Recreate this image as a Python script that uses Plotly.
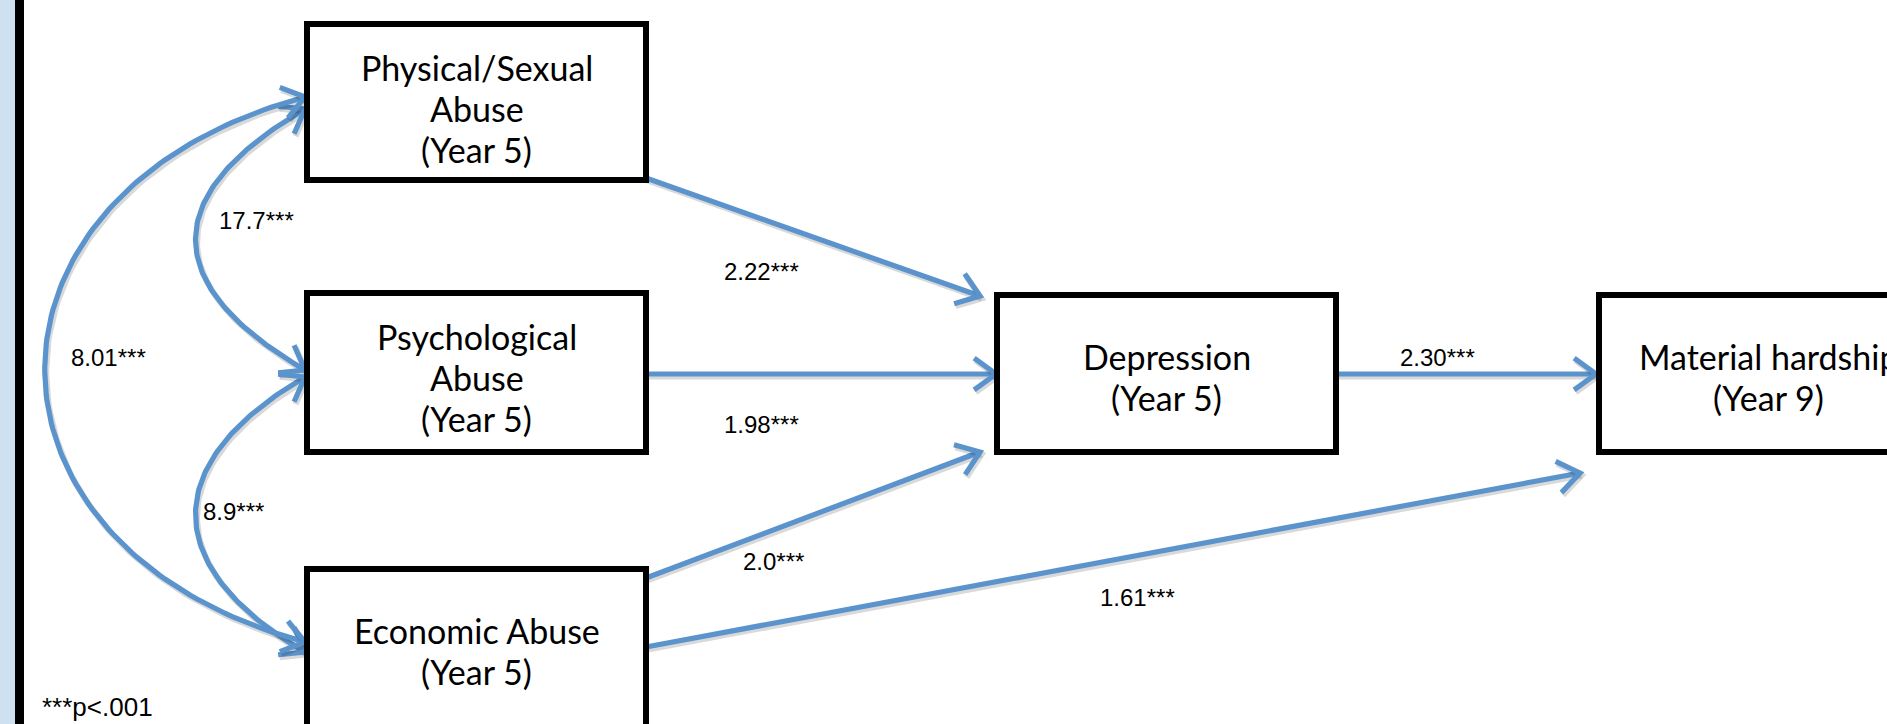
import numpy as np
import plotly.graph_objects as go

# ---------------- data ----------------
node_names = [
    "Physical/Sexual<br>Abuse<br>(Year 5)",
    "Psychological<br>Abuse<br>(Year 5)",
    "Economic Abuse<br>(Year 5)",
    "Depression<br>(Year 5)",
    "Material hardship<br>(Year 9)",
]
path_from = [0, 1, 2, 2, 3]
path_to = [3, 3, 3, 4, 4]
path_coef = ["2.22***", "1.98***", "2.0***", "1.61***", "2.30***"]
cov_from = [0, 1, 0]
cov_to = [1, 2, 2]
cov_coef = ["17.7***", "8.9***", "8.01***"]
footnote = "***p<.001"

# ---------------- layout (positions / styles) ----------------
W, H = 1887, 724
BLUE = "#5B94CD"
SHADOW = "rgba(0,0,0,0.15)"
box_rects = [(307, 24, 646, 180), (307, 293, 646, 452), (307, 569, 646, 730),
             (997, 295, 1336, 452), (1599, 295, 1938, 452)]
text_centers = [108, 377, 651, 377, 377]
LINE_GAP = 41
path_pts = [((646, 178), (980, 296)), ((646, 374), (996, 374)), ((646, 578), (980, 452)),
            ((646, 647), (1580, 473)), ((1336, 374), (1596, 374))]
path_lab_pos = [(761, 271), (761, 424), (773, 561), (1137, 597), (1437, 357)]
cov_geom = [((305, 109), (305, 370), 159, 85), ((305, 377), (305, 652), 159, 85),
            ((305, 97), (305, 642), -42, 93)]
cov_lab_pos = [(256, 220), (233, 511), (108, 357)]

fig = go.Figure()


def add_line(xs, ys):
    xs = np.asarray(xs, float)
    ys = np.asarray(ys, float)
    fig.add_trace(go.Scatter(x=xs + 1.5, y=ys + 2.5, mode="lines",
                             line=dict(color=SHADOW, width=6), hoverinfo="skip", showlegend=False))
    fig.add_trace(go.Scatter(x=xs, y=ys, mode="lines",
                             line=dict(color=BLUE, width=5.2), hoverinfo="skip", showlegend=False))


def chevron(tip, direction, L=27, ang=36):
    d = np.asarray(direction, float)
    d = d / np.linalg.norm(d)
    a = np.radians(ang)
    back = -d
    r1 = np.array([back[0] * np.cos(a) - back[1] * np.sin(a), back[0] * np.sin(a) + back[1] * np.cos(a)])
    r2 = np.array([back[0] * np.cos(-a) - back[1] * np.sin(-a), back[0] * np.sin(-a) + back[1] * np.cos(-a)])
    p1 = np.asarray(tip) + L * r1
    p2 = np.asarray(tip) + L * r2
    add_line([p1[0], tip[0], p2[0]], [p1[1], tip[1], p2[1]])


# straight paths
for i in range(len(path_from)):
    (x0, y0), (x1, y1) = path_pts[i]
    add_line([x0, x1], [y0, y1])
    chevron((x1, y1), (x1 - x0, y1 - y0))

# curved covariances (double-headed)
t = np.linspace(0, 1, 120)
for i in range(len(cov_from)):
    (x0, y0), (x3, y3), xc, d = cov_geom[i]
    P0 = np.array([x0, y0]); P1 = np.array([xc, y0 + d])
    P2 = np.array([xc, y3 - d]); P3 = np.array([x3, y3])
    pts = (((1 - t) ** 3)[:, None] * P0 + (3 * (1 - t) ** 2 * t)[:, None] * P1
           + (3 * (1 - t) * t ** 2)[:, None] * P2 + (t ** 3)[:, None] * P3)
    add_line(pts[:, 0], pts[:, 1])
    chevron(P0, P0 - P1)
    chevron(P3, P3 - P2)

shapes = [
    dict(type="rect", x0=-5, x1=15, y0=-5, y1=H + 5, fillcolor="#CFE0F1", line=dict(width=0), layer="below"),
    dict(type="rect", x0=15, x1=24, y0=-5, y1=H + 5, fillcolor="#000000", line=dict(width=0), layer="below"),
]
for (x0, y0, x1, y1) in box_rects:
    shapes.append(dict(type="rect", x0=x0, x1=x1, y0=y0, y1=y1, fillcolor="white",
                       line=dict(color="black", width=6), layer="above"))

annotations = []
for i, name in enumerate(node_names):
    x0, y0, x1, y1 = box_rects[i]
    lines = name.split("<br>")
    n = len(lines)
    for k, ln in enumerate(lines):
        yk = text_centers[i] + (k - (n - 1) / 2) * LINE_GAP
        annotations.append(dict(x=(x0 + x1) / 2, y=yk, text=ln, showarrow=False, xref="x", yref="y",
                                font=dict(family="Lato, Open Sans, sans-serif", size=34, color="black"),
                                align="center"))
for i, lab in enumerate(path_coef):
    x, y = path_lab_pos[i]
    annotations.append(dict(x=x, y=y, text=lab, showarrow=False, xref="x", yref="y",
                            font=dict(family="Liberation Sans, Arial, sans-serif", size=24, color="black")))
for i, lab in enumerate(cov_coef):
    x, y = cov_lab_pos[i]
    annotations.append(dict(x=x, y=y, text=lab, showarrow=False, xref="x", yref="y",
                            font=dict(family="Liberation Sans, Arial, sans-serif", size=24, color="black")))
annotations.append(dict(x=97, y=707, text=footnote, showarrow=False, xref="x", yref="y",
                        font=dict(family="Liberation Sans, Arial, sans-serif", size=26, color="black")))

fig.update_layout(
    width=W, height=H, autosize=False,
    margin=dict(l=0, r=0, t=0, b=0, pad=0),
    paper_bgcolor="white", plot_bgcolor="white",
    xaxis=dict(range=[0, W], visible=False, fixedrange=True),
    yaxis=dict(range=[H, 0], visible=False, fixedrange=True),
    shapes=shapes, annotations=annotations, showlegend=False,
)

fig.write_html(
    "out.html",
    config={"displayModeBar": False, "staticPlot": True},
    post_script="document.body.style.margin='0px';document.documentElement.style.overflow='hidden';",
)
